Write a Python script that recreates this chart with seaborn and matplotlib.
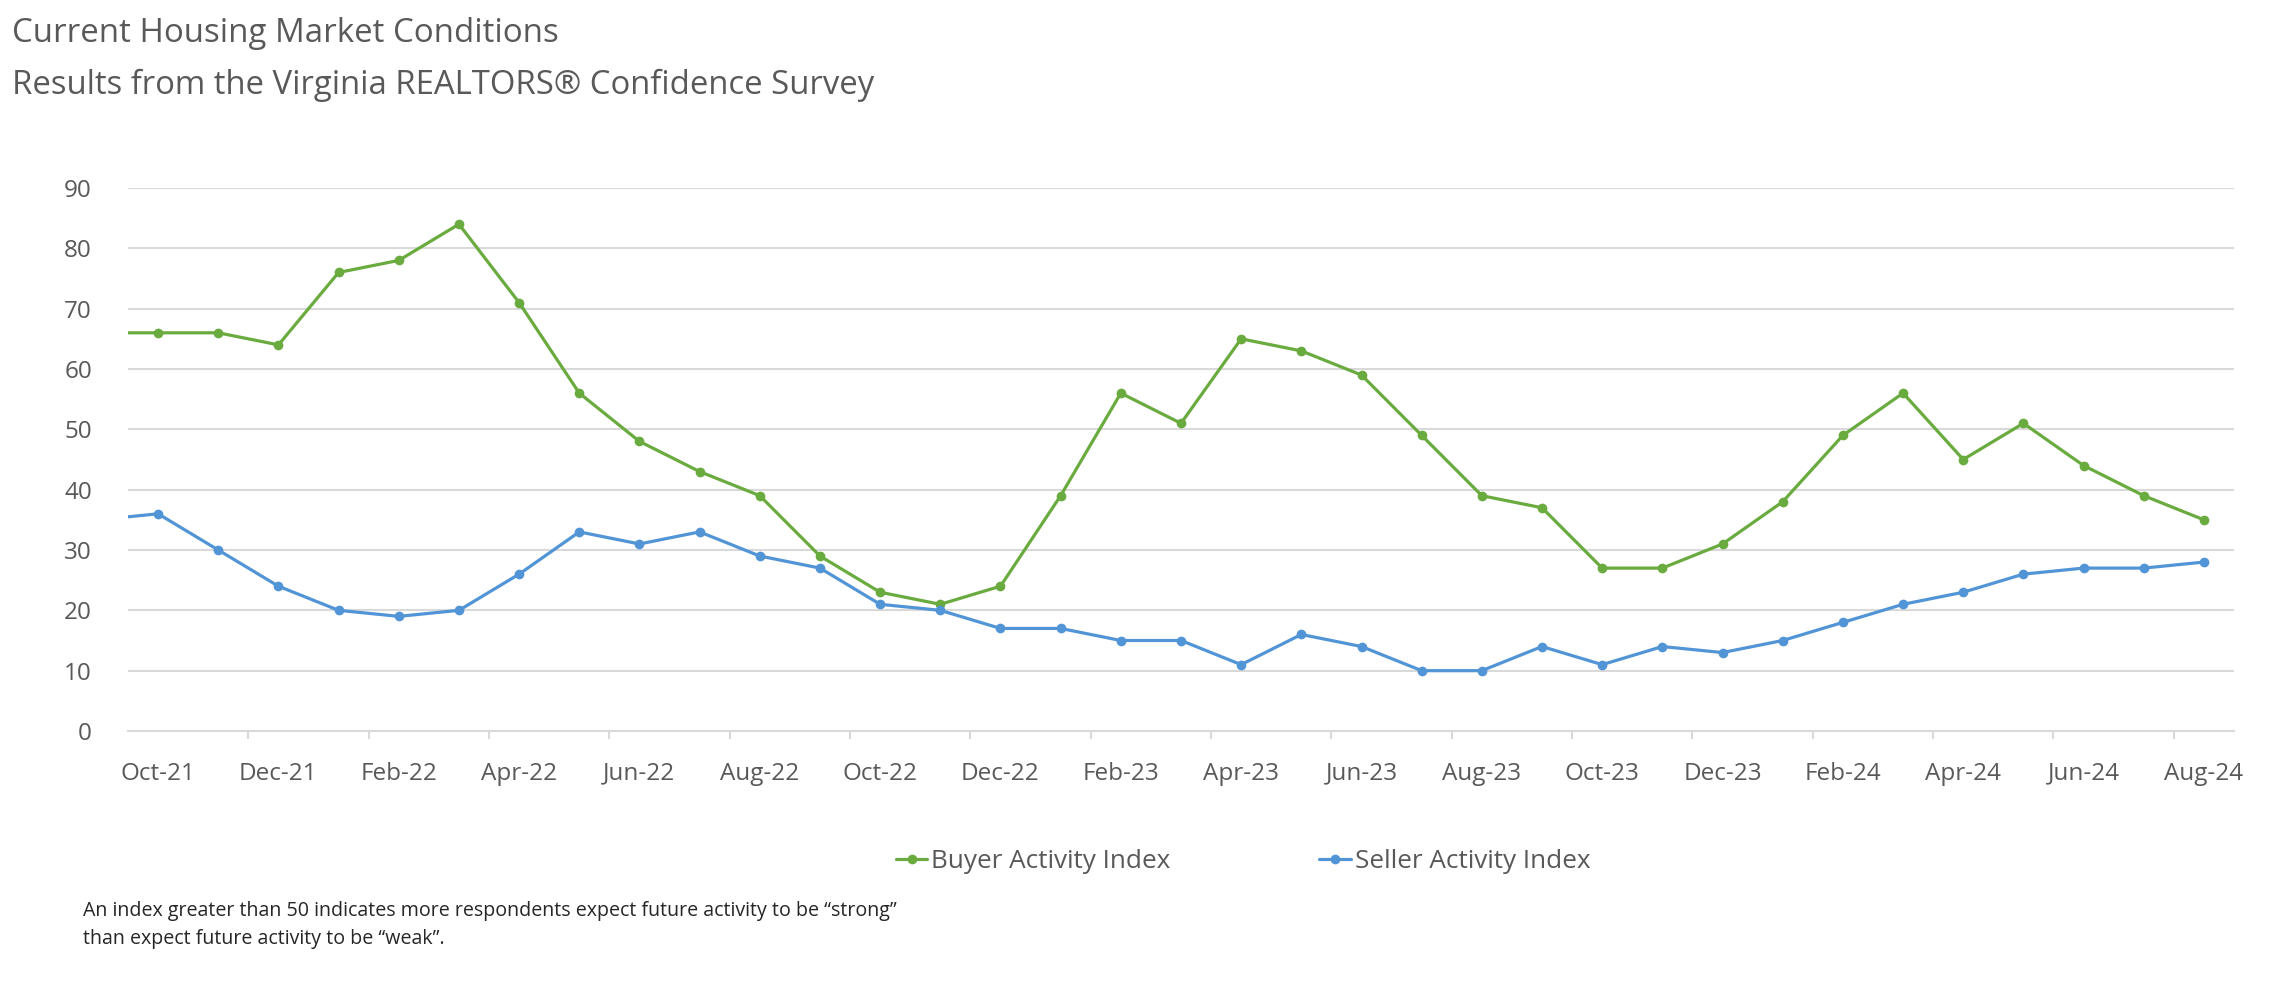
import matplotlib
matplotlib.use("Agg")
import matplotlib.pyplot as plt
import seaborn as sns
import pandas as pd
import numpy as np
from matplotlib.ticker import FixedLocator

# ---- data ----
months = ["Sep-21", "Oct-21", "Nov-21", "Dec-21", "Jan-22", "Feb-22", "Mar-22", "Apr-22",
          "May-22", "Jun-22", "Jul-22", "Aug-22", "Sep-22", "Oct-22", "Nov-22", "Dec-22",
          "Jan-23", "Feb-23", "Mar-23", "Apr-23", "May-23", "Jun-23", "Jul-23", "Aug-23",
          "Sep-23", "Oct-23", "Nov-23", "Dec-23", "Jan-24", "Feb-24", "Mar-24", "Apr-24",
          "May-24", "Jun-24", "Jul-24", "Aug-24"]
buyer = [66, 66, 66, 64, 76, 78, 84, 71, 56, 48, 43, 39, 29, 23, 21, 24,
         39, 56, 51, 65, 63, 59, 49, 39, 37, 27, 27, 31, 38, 49, 56, 45,
         51, 44, 39, 35]
seller = [35, 36, 30, 24, 20, 19, 20, 26, 33, 31, 33, 29, 27, 21, 20, 17,
          17, 15, 15, 11, 16, 14, 10, 10, 14, 11, 14, 13, 15, 18, 21, 23,
          26, 27, 27, 28]
series_names = ["Buyer Activity Index", "Seller Activity Index"]
y_ticks = [0, 10, 20, 30, 40, 50, 60, 70, 80, 90]
title_lines = ["Current Housing Market Conditions",
               "Results from the Virginia REALTORS\u00ae Confidence Survey"]
footnote = ("An index greater than 50 indicates more respondents expect future activity to be \u201cstrong\u201d\n"
            "than expect future activity to be \u201cweak\u201d.")

# ---- long-form frame ----
pos = np.arange(len(months)) - 1  # Oct-21 at 0
df = pd.DataFrame({
    "pos": np.concatenate([pos, pos]),
    "value": buyer + seller,
    "series": [series_names[0]] * len(months) + [series_names[1]] * len(months),
})

sns.set_theme(style="white")
plt.rcParams["font.family"] = ["Open Sans", "DejaVu Sans"]

TXT = "#595959"
GRID = "#D9D9D9"
palette = {series_names[0]: "#6AAB3F", series_names[1]: "#5295D6"}

fig = plt.figure(figsize=(22.91, 9.99), dpi=100)
ax = fig.add_axes([128 / 2291, 1 - 731 / 999, (2234 - 128) / 2291, (731 - 188) / 999])

sns.lineplot(data=df, x="pos", y="value", hue="series", palette=palette,
             marker="o", markersize=7, markeredgewidth=0, linewidth=2.3,
             ax=ax, legend=True)

ax.set_xlim(-0.5, len(months) - 1 - 0.5)
ax.set_ylim(0, 90)
ax.set_yticks(y_ticks)
ax.set_yticklabels([str(v) for v in y_ticks])
ax.yaxis.grid(True, color=GRID, linewidth=1.5)
ax.set_axisbelow(True)

label_pos = pos[1::2]
ax.set_xticks(label_pos)
ax.set_xticklabels([months[i] for i in range(1, len(months), 2)])
ax.xaxis.set_minor_locator(FixedLocator(np.arange(1.5, len(months) - 1.5, 2)))
ax.tick_params(axis="x", which="major", length=0, pad=22, labelsize=17.5, labelcolor=TXT)
ax.tick_params(axis="x", which="minor", length=6, width=1.5, color=GRID, bottom=True)
ax.tick_params(axis="y", length=0, pad=26, labelsize=17.5, labelcolor=TXT)
ax.set_xlabel("")
ax.set_ylabel("")
for s in ["left", "right", "top"]:
    ax.spines[s].set_visible(False)
ax.spines["bottom"].set_color(GRID)
ax.spines["bottom"].set_linewidth(1.5)

handles, labels = ax.get_legend_handles_labels()
ax.get_legend().remove()
fig.legend(handles, labels, loc="center", bbox_to_anchor=(1243 / 2291, 1 - 862 / 999),
           ncol=2, frameon=False, fontsize=18.8, handlelength=1.2, handletextpad=0.15,
           columnspacing=5.7, labelcolor=TXT)

fig.text(12 / 2291, 1 - 34 / 999, title_lines[0], fontsize=23.8, color=TXT, va="center", ha="left")
fig.text(12 / 2291, 1 - 85 / 999, title_lines[1], fontsize=23.7, color=TXT, va="center", ha="left")
fig.text(83 / 2291, 1 - 925 / 999, footnote, fontsize=14.1, color="#262626", va="center",
         ha="left", linespacing=1.5)

fig.savefig("out.png", dpi=100, facecolor="white")
